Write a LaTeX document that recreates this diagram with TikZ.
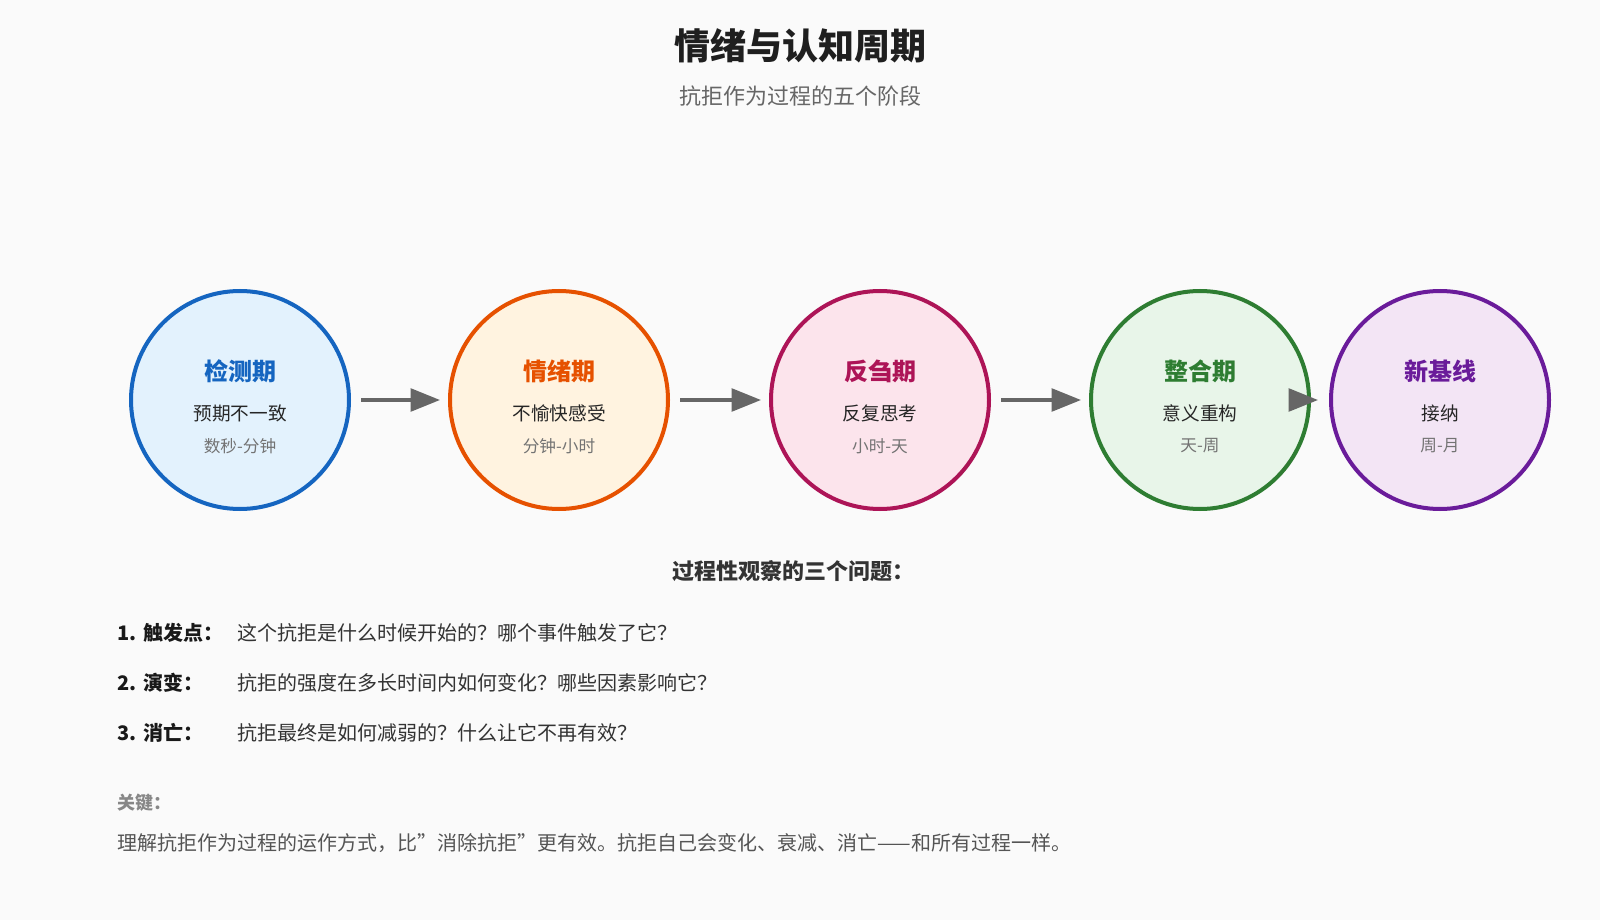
\documentclass[tikz,border=0pt]{standalone}
\usepackage{fontspec}
\setmainfont{Noto Sans CJK SC}
\usetikzlibrary{positioning, arrows.meta}
\definecolor{bgc}{HTML}{FAFAFA}
\definecolor{txt}{HTML}{333333}
\definecolor{blueL}{HTML}{1565C0}\definecolor{blueF}{HTML}{E3F2FD}
\definecolor{orangeL}{HTML}{E65100}\definecolor{orangeF}{HTML}{FFF3E0}
\definecolor{pinkL}{HTML}{AD1457}\definecolor{pinkF}{HTML}{FCE4EC}
\definecolor{greenL}{HTML}{2E7D32}\definecolor{greenF}{HTML}{E8F5E9}
\definecolor{purpleL}{HTML}{6A1B9A}\definecolor{purpleF}{HTML}{F3E5F5}
\tikzset{
  stage/.style={circle, line width=3pt, minimum size=218*0.75pt, inner sep=0pt},
  flow/.style={line width=2.6pt, color=black!60, -{Triangle[length=22pt,width=17pt]}},
  item/.style={anchor=west, font=\fontsize{15}{18}\selectfont, text=txt}
}
\begin{document}
\begin{tikzpicture}[x=0.75pt, y=-0.75pt]
\fill[bgc] (0,0) rectangle (1600,920);
\useasboundingbox (0,0) rectangle (1600,920);

% title
\node[font=\fontsize{27}{30}\selectfont\bfseries, text=black!88] (title) at (800,46) {情绪与认知周期};
\node[font=\fontsize{16.5}{20}\selectfont, text=black!60] (subtitle) at (800,96) {抗拒作为过程的五个阶段};

% stages
\foreach \name/\x/\col/\head/\what/\when in
{c1/240/blue/检测期/预期不一致/数秒-分钟,
 c2/559/orange/情绪期/不愉快感受/分钟-小时,
 c3/880/pink/反刍期/反复思考/小时-天,
 c4/1200/green/整合期/意义重构/天-周,
 c5/1440/purple/新基线/接纳/周-月}
{
\node[stage, draw=\col L, fill=\col F] (\name) at (\x,400) {};
\node[font=\fontsize{18}{20}\selectfont\bfseries, text=\col L] at (\x,371) {\head};
\node[font=\fontsize{14}{16}\selectfont, text=black!85] at (\x,413) {\what};
\node[font=\fontsize{12.5}{14}\selectfont, text=black!55] at (\x,446) {\when};
}

% arrows
\draw[flow] ([xshift=10*0.75pt]c1.east) -- ([xshift=-8*0.75pt]c2.west);
\draw[flow] ([xshift=10*0.75pt]c2.east) -- ([xshift=-8*0.75pt]c3.west);
\draw[flow] ([xshift=10*0.75pt]c3.east) -- ([xshift=-8*0.75pt]c4.west);
\draw[flow] ([xshift=-22*0.75pt]c4.east) -- ([xshift=-11*0.75pt]c5.west);

% questions
\node[font=\fontsize{16.5}{20}\selectfont\bfseries, text=txt] (qhead) at (793,571) {过程性观察的三个问题：};
\foreach \y/\lab/\q in
{633/1. 触发点：/这个抗拒是什么时候开始的？哪个事件触发了它？,
 683/2. 演变：/抗拒的强度在多长时间内如何变化？哪些因素影响它？,
 733/3. 消亡：/抗拒最终是如何减弱的？什么让它不再有效？}
{
\node[item, font=\fontsize{15}{18}\selectfont\bfseries, text=black!90] at (113,\y) {\lab};
\node[item] at (233,\y) {\q};
}

% key note
\node[anchor=west, font=\fontsize{13.5}{16}\selectfont\bfseries, text=black!47] (key) at (113,803) {关键：};
\node[anchor=west, font=\fontsize{15}{18}\selectfont, text=black!67] (note) at (113,843) {理解抗拒作为过程的运作方式，比"消除抗拒"更有效。抗拒自己会变化、衰减、消亡——和所有过程一样。};
\end{tikzpicture}
\end{document}
